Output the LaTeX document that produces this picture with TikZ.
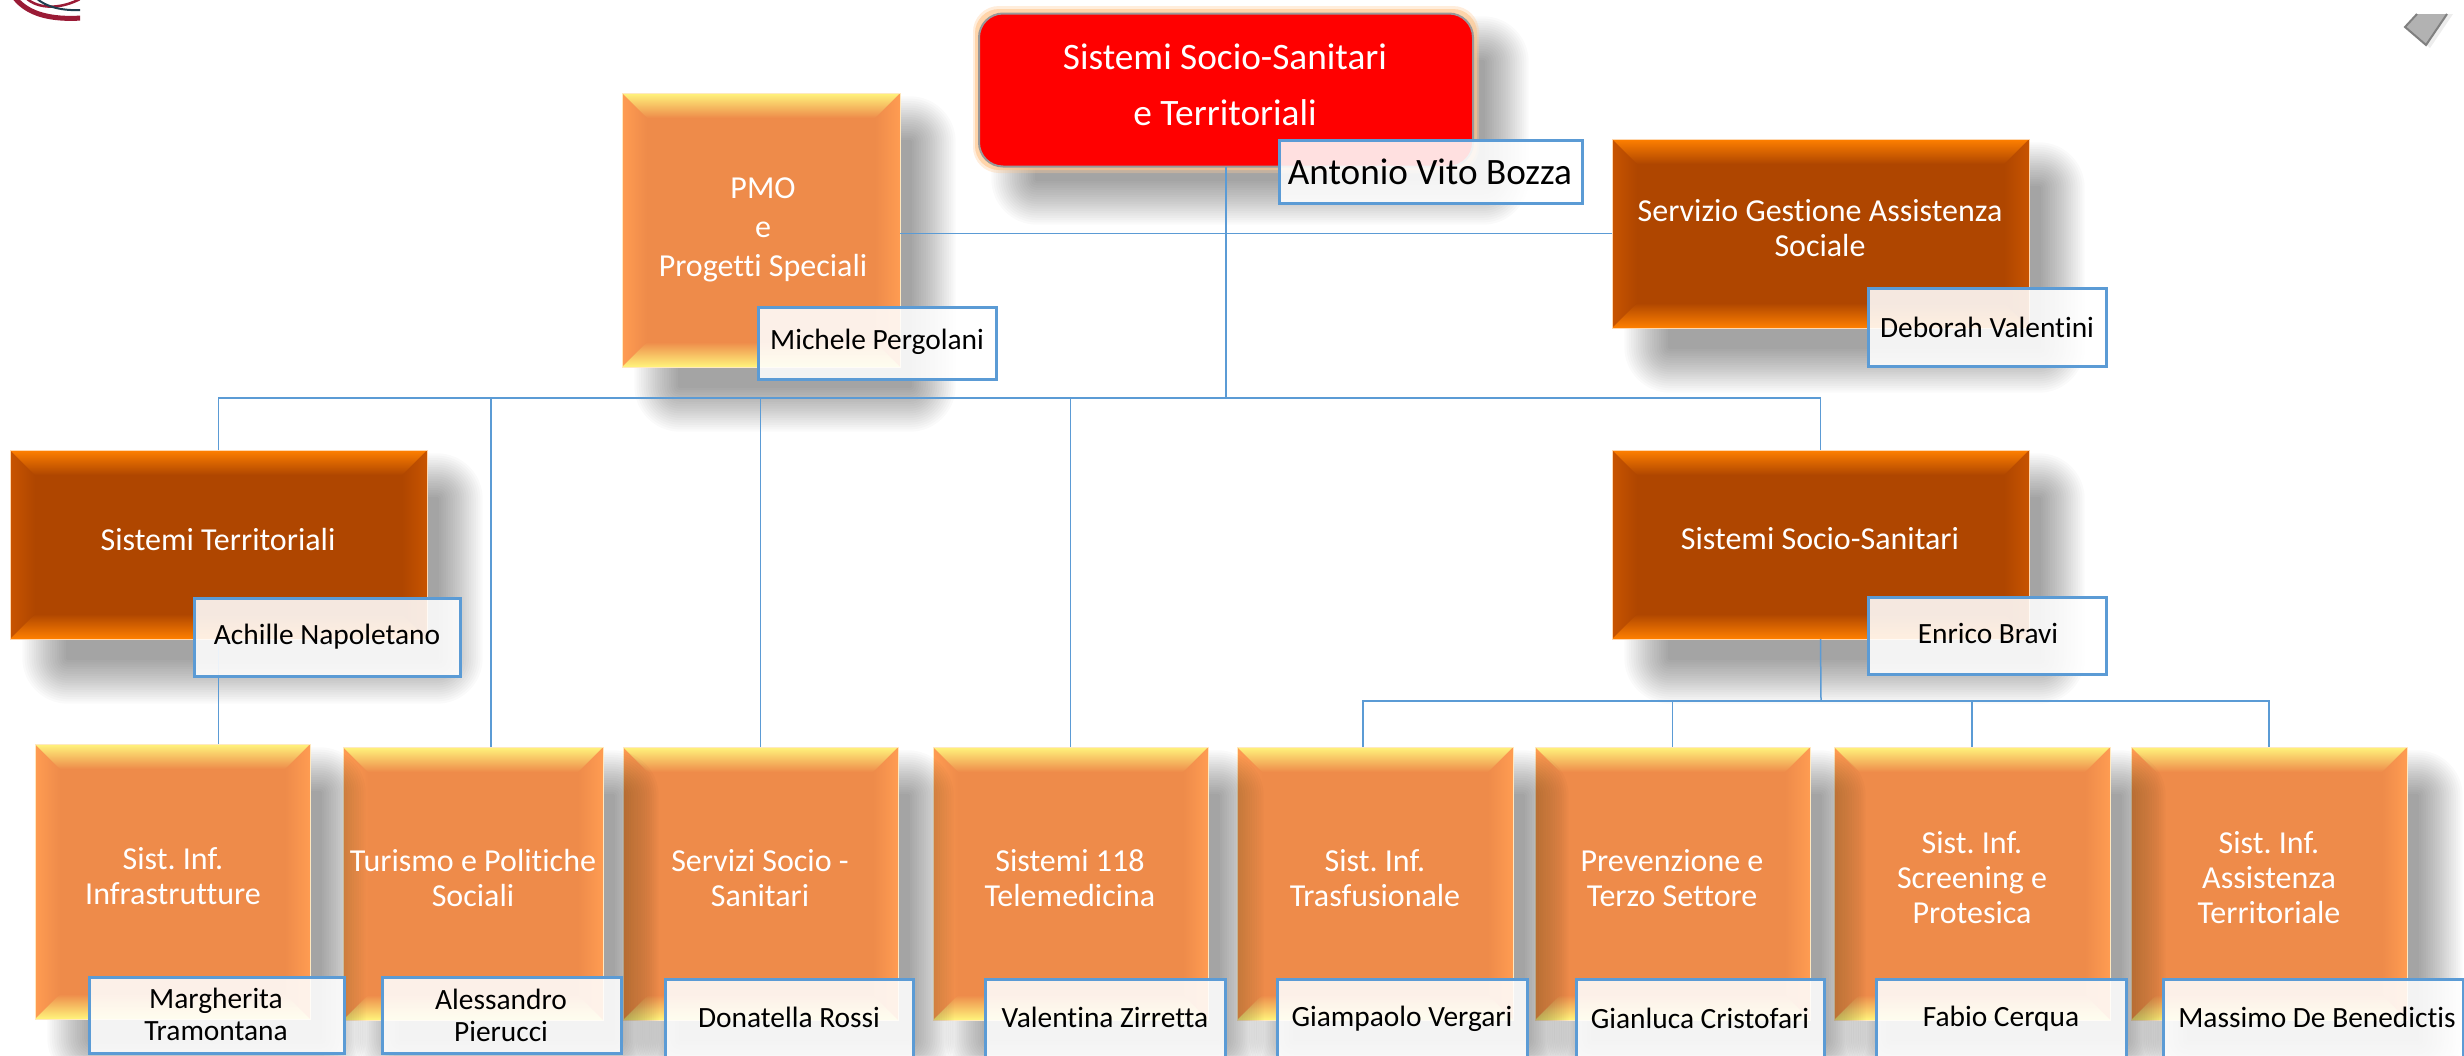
\documentclass[tikz,border=0pt]{standalone}
\usepackage{fontspec}
\setmainfont{Carlito}[Ligatures=NoCommon]
\frenchspacing
\definecolor{orgbase}{HTML}{EE8B4A}
\definecolor{orghi}{HTML}{FFF47C}
\definecolor{orgmid}{HTML}{FFA257}
\definecolor{orgside}{HTML}{FF9C52}
\definecolor{orgedge}{HTML}{FFE9C0}
\definecolor{drkbase}{HTML}{AF4600}
\definecolor{drkhi}{HTML}{FF8000}
\definecolor{drkmid}{HTML}{F06800}
\definecolor{drkside}{HTML}{C85400}
\definecolor{drkedge}{HTML}{FFD8B0}
\definecolor{connblue}{HTML}{5B9BD5}
\definecolor{logored}{HTML}{9A1B36}
\definecolor{logoteal}{HTML}{1F3F4F}
\tikzset{
  conn/.style={draw=connblue,line width=1.5pt},
  geom/.style={inner sep=0pt,outer sep=0pt},
  lab/.style={align=center,text=white,inner sep=0pt,font=\fontsize{32}{35}\selectfont},
  who/.style={align=center,text=black,inner sep=0pt,font=\fontsize{29.4}{32}\selectfont},
  namebox/.style={geom,draw=connblue,line width=3pt,fill=white,fill opacity=.88},
}
\newcommand{\softshadow}[4]{%
  \foreach \e in {-22,-19.7,...,22}{%
    \pgfmathsetmacro{\rr}{max(1,\e+24)}%
    \fill[black,fill opacity=.0195,rounded corners=\rr pt]
      ({#1+34-\e},{#2+25-\e}) rectangle ({#3+34+\e},{#4+43+\e});
  }%
}
\newcommand{\bevelbox}[6]{%
  \softshadow{#2}{#3}{#4}{#5}%
  \pgfmathsetmacro{\bw}{#4-#2}\pgfmathsetmacro{\bh}{#5-#3}%
  \pgfmathsetmacro{\cx}{(#2+#4)/2}\pgfmathsetmacro{\cy}{(#3+#5)/2}%
  \node[geom,fill=#6base,minimum width=\bw pt,minimum height=\bh pt] (#1) at (\cx,\cy) {};
  \shade[left color=#6side,right color=#6base] (#2,#3) -- ({#2+25},{#3+25}) -- ({#2+25},{#5-25}) -- (#2,#5) -- cycle;
  \shade[left color=#6base,right color=#6side] (#4,#3) -- ({#4-25},{#3+25}) -- ({#4-25},{#5-25}) -- (#4,#5) -- cycle;
  \shade[top color=#6hi,middle color=#6mid,bottom color=#6base] (#2,#3) -- (#4,#3) -- ({#4-25},{#3+25}) -- ({#2+25},{#3+25}) -- cycle;
  \shade[top color=#6base,middle color=#6mid,bottom color=#6hi] (#2,#5) -- (#4,#5) -- ({#4-25},{#5-25}) -- ({#2+25},{#5-25}) -- cycle;
  \draw[#6edge,line width=1pt] (#2,#3) rectangle (#4,#5);
}
\newcommand{\whobox}[8]{%
  \pgfmathsetmacro{\bw}{#4-#2}\pgfmathsetmacro{\bh}{#5-#3}%
  \pgfmathsetmacro{\cx}{(#2+#4)/2}\pgfmathsetmacro{\cy}{(#3+#5)/2}%
  \node[namebox,minimum width=\bw pt,minimum height=\bh pt] (#1) at (\cx,\cy) {};
  \node[who] (#1txt) at (#6,#7) {#8};
}
\begin{document}
\begin{tikzpicture}[x=1pt,y=-1pt]
\path[use as bounding box,clip] (0,0) rectangle (2464,1055);
\fill[white] (0,0) rectangle (2464,1055);

% logo fragment
\begin{scope}
\clip (0,0) rectangle (80,30);
\draw[color=logored,line width=5pt] (15,-2) .. controls (28,14) and (50,20) .. (82,18);
\draw[color=logored,line width=2.5pt] (26,-2) .. controls (38,9) and (60,10) .. (82,-2);
\draw[color=logoteal,line width=2pt] (36,-2) .. controls (46,7) and (62,11) .. (82,10);
\end{scope}

% top-right fragment
\fill[black,opacity=.07] (2421,14) -- (2409,30) -- (2430,48) -- (2453,14);
\filldraw[fill=black!30,draw=black!50,line width=2pt] (2417,14) -- (2405,27) -- (2426,45) -- (2447,14);

% top row
\bevelbox{serv}{1612}{139}{2029}{328}{drk}
\softshadow{979}{13}{1473}{160}
\fill[orange!40,opacity=.35,rounded corners=26pt] (973,6) rectangle (1479,173);
\fill[orange!45,opacity=.6,rounded corners=24pt] (975,9) rectangle (1477,170);
\node[geom,fill=red,draw=black!40,line width=2pt,rounded corners=24pt,minimum width=494pt,minimum height=153pt] (red) at (1226,90) {};
\bevelbox{pmo}{622}{93}{900}{367}{org}

% middle row
\bevelbox{ssan}{1612}{450}{2029}{639}{drk}
\bevelbox{terr}{10}{450}{427}{639}{drk}

% bottom row, right to left so that each shadow falls on its right neighbour
\bevelbox{asst}{2131}{747}{2407}{1020}{org}
\bevelbox{scre}{1834}{747}{2110}{1020}{org}
\bevelbox{prev}{1535}{747}{1810}{1020}{org}
\bevelbox{tras}{1237}{747}{1513}{1020}{org}
\bevelbox{teme}{933}{747}{1208}{1020}{org}
\bevelbox{sesa}{623}{747}{898}{1020}{org}
\bevelbox{turi}{343}{747}{603}{1020}{org}
\bevelbox{infr}{35}{744}{310}{1019}{org}

% connectors
\coordinate (hub) at (1226,398);
\coordinate (sub) at (1821,701);
\coordinate (tjoin) at (491,747);
\coordinate (fjoin) at (1363,747);
\draw[conn] (red.south) -- (hub);
\draw[conn] (serv.west) -- (serv.west -| pmo.east);
\draw[conn] (terr.north) |- (hub) -| (ssan.north);
\draw[conn] (hub -| tjoin) -- (tjoin);
\draw[conn] (hub -| sesa.north) -- (sesa.north);
\draw[conn] (hub -| teme.north) -- (teme.north);
\draw[conn] (terr.south) -- (terr.south |- infr.north);
\draw[conn] (ssan.south) -- (sub);
\draw[conn] (fjoin) |- (sub) -| (asst.north);
\draw[conn] (sub -| prev.north) -- (prev.north);
\draw[conn] (sub -| scre.north) -- (scre.north);

% box titles
\node[lab,font=\fontsize{37.3}{56}\selectfont] (redtxt) at (1225,85) {Sistemi Socio-Sanitari\\e Territoriali};
\node[lab,font=\fontsize{32}{39}\selectfont] (pmotxt) at (763,230) {PMO\\e\\Progetti Speciali};
\node[lab] (servtxt) at (1820,228) {Servizio Gestione Assistenza\\Sociale};
\node[lab] (terrtxt) at (218,539) {Sistemi Territoriali};
\node[lab] (ssantxt) at (1820,539) {Sistemi Socio-Sanitari};
\node[lab] (infrtxt) at (173,876) {Sist. Inf.\\Infrastrutture};
\node[lab] (turitxt) at (473,878) {Turismo e Politiche\\Sociali};
\node[lab] (sesatxt) at (760,878) {Servizi Socio -\\Sanitari};
\node[lab] (temetxt) at (1070,878) {Sistemi 118\\Telemedicina};
\node[lab] (trastxt) at (1375,878) {Sist. Inf.\\Trasfusionale};
\node[lab] (prevtxt) at (1672,878) {Prevenzione e\\Terzo Settore};
\node[lab] (scretxt) at (1972,878) {Sist. Inf.\\Screening e\\Protesica};
\node[lab] (assttxt) at (2269,878) {Sist. Inf.\\Assistenza\\Territoriale};

% name boxes
\whobox{nbozza}{1279}{140}{1582}{203}{1430}{172}{\fontsize{37.2}{40}\selectfont Antonio Vito Bozza}
\whobox{nperg}{758}{307}{996}{379}{877}{342}{Michele Pergolani}
\whobox{nvale}{1868}{288}{2106}{366}{1987}{327}{Deborah Valentini}
\whobox{nnapo}{194}{598}{460}{676}{327}{637}{Achille Napoletano}
\whobox{nbrav}{1868}{597}{2106}{674}{1988}{633}{Enrico Bravi}
\whobox{ntram}{89}{977}{344}{1053}{216}{1014}{Margherita\\Tramontana}
\whobox{npier}{382}{977}{621}{1053}{501}{1015}{Alessandro\\Pierucci}
\whobox{nross}{665}{979}{913}{1065}{789}{1017}{Donatella Rossi}
\whobox{nzirr}{985}{979}{1225}{1065}{1105}{1017}{Valentina Zirretta}
\whobox{nverg}{1277}{979}{1527}{1065}{1402}{1019}{Giampaolo Vergari}
\whobox{ncris}{1576}{979}{1824}{1065}{1700}{1018}{Gianluca Cristofari}
\whobox{ncerq}{1876}{979}{2126}{1065}{2001}{1019}{Fabio Cerqua}
\whobox{nbene}{2163}{979}{2463}{1065}{2317}{1017}{Massimo De Benedictis}
\end{tikzpicture}
\end{document}
